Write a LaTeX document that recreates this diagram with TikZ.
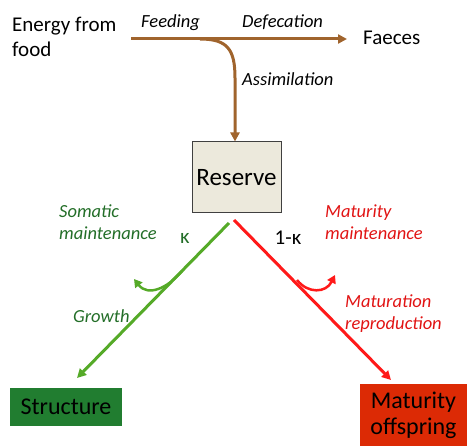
\documentclass[tikz,border=0pt]{standalone}
\usepackage{fontspec}
\setmainfont{Carlito}
\usetikzlibrary{arrows.meta}
\definecolor{flowbrown}{RGB}{160,100,45}
\definecolor{reservebg}{RGB}{236,233,220}
\definecolor{growgreen}{RGB}{85,170,40}
\definecolor{textgreen}{RGB}{35,110,40}
\definecolor{structgreen}{RGB}{33,125,48}
\definecolor{matred}{RGB}{255,25,25}
\definecolor{textred}{RGB}{225,20,20}
\definecolor{offred}{RGB}{220,42,5}

\begin{document}
\begin{tikzpicture}[
        x=1pt, y=-1pt,
        plain/.style={inner sep=0pt, anchor=base west, align=left, font=\fontsize{21}{25}\selectfont},
        lbl/.style={inner sep=0pt, anchor=base west, align=left, font=\fontsize{18.5}{22}\selectfont\itshape},
        kap/.style={inner sep=0pt, font=\fontsize{21}{22}\selectfont},
        pool/.style={inner sep=0pt, align=center, font=\fontsize{24}{26}\selectfont},
        flow/.style={line width=3pt, -{Triangle[length=9pt, width=9pt]}}
    ]
        \useasboundingbox (0,0) rectangle (467,446);

        % multi-line labels sit on the baseline of their last line
        \node[plain] (food) at (12,57) {Energy from\\food};
        \node[plain] (faeces) at (363,45) {Faeces};
        \node[lbl] (feed) at (141,28) {Feeding};
        \node[lbl] (defec) at (242,28) {Defecation};
        \node[lbl] (assim) at (242,86) {Assimilation};

        \node[pool, draw=black!75, line width=1pt, fill=reservebg, minimum width=89pt, minimum height=71pt, font=\fontsize{25}{27}\selectfont] (reserve) at (236.5,177.5) {Reserve};
        \node[pool, fill=structgreen, minimum width=112pt, minimum height=38pt] (struct) at (66,407) {Structure};
        \node[pool, fill=offred, minimum width=107pt, minimum height=62pt] (offspring) at (413.5,415) {Maturity\\offspring};

        \coordinate (intake) at (131,39);
        \coordinate (split) at (200,39);
        \coordinate (outlet) at (347,39);
        \coordinate (kleft) at (229,223);
        \coordinate (kright) at (234,220);
        \coordinate (somfork) at (182,271);
        \coordinate (matfork) at (297,280);
        \coordinate (structtip) at (77,378);
        \coordinate (offtip) at (391,380);

        \draw[flow, flowbrown] (intake) -- (outlet);
        \draw[flow, flowbrown] (split) .. controls (228,39) and (235,50) .. (235,78) -- (reserve.north -| 235,0);
        \draw[flow, growgreen] (kleft) -- (structtip);
        \draw[flow, matred] (kright) -- (offtip);
        \draw[flow, growgreen, line width=2.5pt, -{Triangle[length=8pt, width=9pt]}] (somfork) .. controls (168,288) and (148,297) .. (134,279);
        \draw[flow, matred, line width=2.5pt, -{Triangle[length=8pt, width=9pt]}] (matfork) .. controls (308,294) and (326,293) .. (335,275);

        \node[kap, text=textgreen] (kappa) at (185,238) {κ};
        \node[kap] (onekappa) at (288,238) {1-κ};
        \node[lbl, text=textgreen] (soma) at (59,240) {Somatic\\maintenance};
        \node[lbl, text=textred] (matmaint) at (325,240) {Maturity\\maintenance};
        \node[lbl, text=textgreen] (growth) at (73,323) {Growth};
        \node[lbl, text=textred] (matrep) at (345,330) {Maturation\\reproduction};
    \end{tikzpicture}
\end{document}
